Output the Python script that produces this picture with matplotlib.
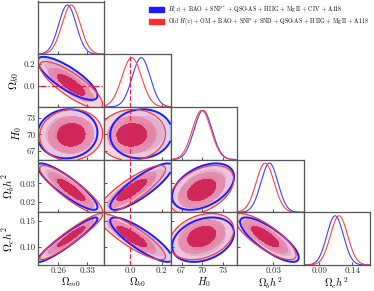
import numpy as np
import matplotlib.pyplot as plt
from matplotlib.patches import Patch

plt.rcParams['font.family'] = 'serif'
plt.rcParams['font.serif'] = ['cmr10', 'DejaVu Serif']
plt.rcParams['mathtext.fontset'] = 'cm'
plt.rcParams['axes.formatter.use_mathtext'] = True

# parameters
names = [r'$\Omega_{m0}$', r'$\Omega_{k0}$', r'$H_0$', r'$\Omega_b h^2$', r'$\Omega_c h^2$']

# axis ranges
xlims = [(0.21, 0.37), (-0.165, 0.255), (65.4, 75.0), (0.0146, 0.0427), (0.066, 0.167)]
ylims = [(0.21, 0.37), (-0.19, 0.29), (65.4, 75.0), (0.0146, 0.0427), (0.065, 0.167)]
xticks = [[0.26, 0.33], [0.0, 0.2], [67, 70, 73], [0.03], [0.09, 0.14]]
xticklabels = [['0.26', '0.33'], ['0.0', '0.2'], ['67', '70', '73'], ['0.03'], ['0.09', '0.14']]
yticks = [[], [0.0, 0.2], [67, 70, 73], [0.02, 0.03], [0.10, 0.15]]
yticklabels = [[], ['0.0', '0.2'], ['67', '70', '73'], ['0.02', '0.03'], ['0.10', '0.15']]

# new data set (blue)
mean_new = [0.282, 0.070, 70.1, 0.0283, 0.1140]
sig_new = [0.021, 0.057, 1.30, 0.0036, 0.0125]
corr_new = [[1.00, -0.80, 0.05, -0.88, 0.94],
            [-0.80, 1.00, 0.05, 0.85, -0.85],
            [0.05, 0.05, 1.00, 0.42, 0.30],
            [-0.88, 0.85, 0.42, 1.00, -0.80],
            [0.94, -0.85, 0.30, -0.80, 1.00]]

# old data set (red)
mean_old = [0.291, 0.010, 69.9, 0.0265, 0.1200]
sig_old = [0.022, 0.062, 1.35, 0.0038, 0.0130]
corr_old = [[1.00, -0.82, 0.05, -0.88, 0.94],
            [-0.82, 1.00, 0.05, 0.85, -0.86],
            [0.05, 0.05, 1.00, 0.42, 0.30],
            [-0.88, 0.85, 0.42, 1.00, -0.80],
            [0.94, -0.86, 0.30, -0.80, 1.00]]

leg_new = r'$H(z)$ + BAO + SNP$^{+}$ + QSO-AS + H$\,$IIG + Mg$\,$II + C$\,$IV + A118'
leg_old = r'Old $H(z)$ + OM + BAO + SNP + SND + QSO-AS + H$\,$IIG + Mg$\,$II + A118'

blue_fill = ['#7a2a88', '#a98ad0', '#d2d2f5']
red_fill = ['#c8003a', '#e87fa0', '#f6c2d2']
levels = [0, 2.30, 6.18, 11.83]

fig = plt.figure(figsize=(3.74, 2.91), dpi=100)
W, H = 374.0, 291.0
x0, pw = 37.5, 66.5
y0, ph = 1.5, 52.7
n = 5


def chi2(X, Y, m, s, c, i, j):
    dx = (X - m[i]) / s[i]
    dy = (Y - m[j]) / s[j]
    r = c[i][j]
    return (dx**2 - 2 * r * dx * dy + dy**2) / (1 - r**2)


for row in range(n):
    for col in range(row + 1):
        left = (x0 + col * pw) / W
        bottom = 1 - (y0 + (row + 1) * ph) / H
        ax = fig.add_axes([left, bottom, pw / W, ph / H])
        ax.set_xlim(xlims[col])
        if row == col:
            x = np.linspace(*xlims[col], 300)
            p_new = np.exp(-0.5 * ((x - mean_new[col]) / sig_new[col])**2)
            p_old = np.exp(-0.5 * ((x - mean_old[col]) / sig_old[col])**2)
            ax.plot(x, p_new, color='#4040ff', lw=0.8)
            ax.plot(x, p_old, color='#ff4040', lw=0.8)
            ax.set_ylim(0, 1.07)
            ax.set_yticks([])
            if col == 1:
                ax.axvline(0.0, color='#e8204a', lw=0.9, ls='--')
        else:
            ax.set_ylim(ylims[row])
            xs = np.linspace(*xlims[col], 250)
            ys = np.linspace(*ylims[row], 250)
            X, Y = np.meshgrid(xs, ys)
            c_new = chi2(X, Y, mean_new, sig_new, corr_new, col, row)
            c_old = chi2(X, Y, mean_old, sig_old, corr_old, col, row)
            for k in range(3):
                ax.contourf(X, Y, c_new, levels=[0, levels[3 - k]], colors=[blue_fill[2 - k]])
            for k in range(3):
                ax.contourf(X, Y, c_old, levels=[0, levels[3 - k]], colors=[red_fill[2 - k]], alpha=0.7)
            ax.contour(X, Y, c_new, levels=[levels[3]], colors=['#1c1cff'], linewidths=1.4)
            ax.contour(X, Y, c_old, levels=[levels[3]], colors=['#ff3b3b'], linewidths=0.9)
            ax.set_yticks(yticks[row])
            if col == 0:
                ax.set_yticklabels(yticklabels[row])
                ax.set_ylabel(names[row], fontsize=8, labelpad=2)
            else:
                ax.set_yticklabels([])
            if col == 1:
                ax.axvline(0.0, color='#e8204a', lw=0.9, ls='--')
            if row == 1:
                ax.axhline(0.0, color='#e8204a', lw=0.9, ls='-.')
        ax.set_xticks(xticks[col])
        if row == n - 1:
            ax.set_xticklabels(xticklabels[col])
            ax.set_xlabel(names[col], fontsize=7.5, labelpad=0)
        else:
            ax.set_xticklabels([])
        ax.tick_params(direction='in', length=2.5, width=0.6, labelsize=6.5, pad=1.5, colors='#333333')
        for sp in ax.spines.values():
            sp.set_color('#555555')
            sp.set_linewidth(0.9)

handles = [Patch(color='#1c1cff', label=leg_new), Patch(color='#ff2a2a', label=leg_old)]
fig.legend(handles=handles, loc='upper right', bbox_to_anchor=(0.995, 0.997), fontsize=4.2,
           frameon=False, handlelength=2.6, handleheight=0.8, labelspacing=0.12,
           borderpad=0.1, handletextpad=0.6)

fig.savefig('out.png', dpi=100)
